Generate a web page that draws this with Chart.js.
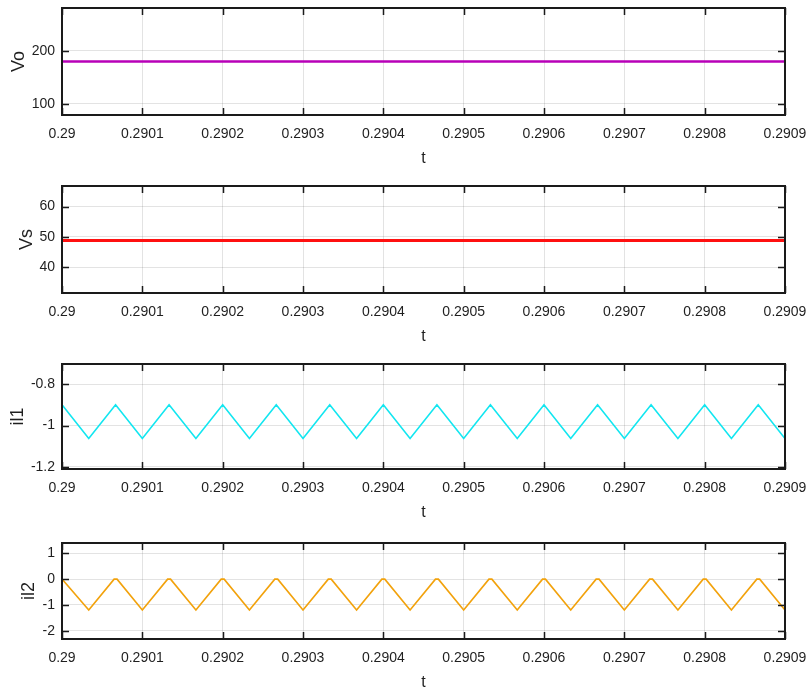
<!DOCTYPE html>
<html>
<head>
<meta charset="utf-8">
<script src="https://cdn.jsdelivr.net/npm/chart.js@4.4.0/dist/chart.umd.min.js"></script>
<style>
  html, body { margin: 0; padding: 0; background: #fff; overflow: hidden; }
  #wrap { position: relative; width: 806px; height: 689px; overflow: hidden; }
  canvas { position: absolute; left: 0; }
</style>
</head>
<body>
<div id="wrap">
  <canvas id="vo" width="806" height="172" style="top:0px"></canvas>
  <canvas id="vs" width="806" height="172" style="top:178px"></canvas>
  <canvas id="il1" width="806" height="170" style="top:356px"></canvas>
  <canvas id="il2" width="806" height="161" style="top:535px"></canvas>
</div>
<script>
// time axis
const timeTicks = [0.29, 0.2901, 0.2902, 0.2903, 0.2904, 0.2905, 0.2906, 0.2907, 0.2908, 0.2909];

// Vo, Vs: flat traces
const voTime = [0.29, 0.2909];
const voValues = [180, 180];
const vsTime = [0.29, 0.2909];
const vsValues = [48.8, 48.8];

// il1: triangle ripple, peaks / troughs
const il1Time = [0.29, 0.2900333, 0.2900667, 0.2901, 0.2901333, 0.2901667, 0.2902, 0.2902333,
  0.2902667, 0.2903, 0.2903333, 0.2903667, 0.2904, 0.2904333, 0.2904667, 0.2905, 0.2905333,
  0.2905667, 0.2906, 0.2906333, 0.2906667, 0.2907, 0.2907333, 0.2907667, 0.2908, 0.2908333,
  0.2908667, 0.2909];
const il1Values = [-0.9, -1.063, -0.9, -1.063, -0.9, -1.063, -0.9, -1.063,
  -0.9, -1.063, -0.9, -1.063, -0.9, -1.063, -0.9, -1.063, -0.9,
  -1.063, -0.9, -1.063, -0.9, -1.063, -0.9, -1.063, -0.9, -1.063,
  -0.9, -1.063];

// il2: ripple clipped at zero (short flat tops)
const il2Time = [0.29, 0.2900333, 0.2900649, 0.2900685, 0.2901, 0.2901315, 0.2901351, 0.2901667,
  0.2901982, 0.2902018, 0.2902333, 0.2902649, 0.2902685, 0.2903, 0.2903315, 0.2903351, 0.2903667,
  0.2903982, 0.2904018, 0.2904333, 0.2904649, 0.2904685, 0.2905, 0.2905315, 0.2905351, 0.2905667,
  0.2905982, 0.2906018, 0.2906333, 0.2906649, 0.2906685, 0.2907, 0.2907315, 0.2907351, 0.2907667,
  0.2907982, 0.2908018, 0.2908333, 0.2908649, 0.2908685, 0.2909];
const il2Values = [0, -1.2, 0, 0, -1.2, 0, 0, -1.2,
  0, 0, -1.2, 0, 0, -1.2, 0, 0, -1.2,
  0, 0, -1.2, 0, 0, -1.2, 0, 0, -1.2,
  0, 0, -1.2, 0, 0, -1.2, 0, 0, -1.2,
  0, 0, -1.2, 0, 0, -1.2];

const voTicks = [100, 200];
const vsTicks = [40, 50, 60];
const il1Ticks = [-1.2, -1, -0.8];
const il2Ticks = [-2, -1, 0, 1];

const FONT = "'Liberation Sans', Arial, sans-serif";

// black box + inward tick marks, like the matlab axes
const framePlugin = {
  id: 'frame',
  afterDraw(chart) {
    const { ctx, chartArea: a, scales: { x, y } } = chart;
    ctx.save();
    ctx.strokeStyle = '#1a1a1a';
    ctx.lineWidth = 1.5;
    ctx.beginPath();
    x.ticks.forEach(t => {
      const px = Math.round(x.getPixelForValue(t.value)) + 0.5;
      ctx.moveTo(px, a.top); ctx.lineTo(px, a.top + 7);
      ctx.moveTo(px, a.bottom); ctx.lineTo(px, a.bottom - 7);
    });
    y.ticks.forEach(t => {
      const py = Math.round(y.getPixelForValue(t.value)) + 0.5;
      ctx.moveTo(a.left, py); ctx.lineTo(a.left + 7, py);
      ctx.moveTo(a.right, py); ctx.lineTo(a.right - 7, py);
    });
    ctx.stroke();
    ctx.lineWidth = 2;
    ctx.strokeRect(a.left, a.top, a.right - a.left, a.bottom - a.top);
    ctx.restore();
  }
};

// axis sizes are fixed so the plot boxes line up with the original
function noEdgePadding(s) {
  s.paddingTop = 0;
  s.paddingBottom = 0;
  s.paddingLeft = 0;
  s.paddingRight = 0;
}

function makePanel(id, label, times, values, color, width, yMin, yMax, yTicks, titlePad) {
  const ctx = document.getElementById(id).getContext('2d');
  return new Chart(ctx, {
    type: 'line',
    data: {
      datasets: [{
        label: label,
        data: times.map((t, i) => ({ x: t, y: values[i] })),
        borderColor: color,
        borderWidth: width,
        pointRadius: 0,
        tension: 0,
        fill: false,
      }]
    },
    options: {
      responsive: false,
      animation: false,
      layout: { padding: { top: 8, right: 21, left: 0, bottom: 0 } },
      plugins: { legend: { display: false }, tooltip: { enabled: false } },
      scales: {
        x: {
          type: 'linear',
          min: 0.29,
          max: 0.2909,
          afterBuildTicks: s => { s.ticks = timeTicks.map(v => ({ value: v })); },
          afterFit: s => { s.height = 57; noEdgePadding(s); },
          grid: { color: 'rgba(0,0,0,0.11)', lineWidth: 1, drawTicks: false },
          border: { display: false },
          ticks: {
            autoSkip: false,
            maxRotation: 0,
            padding: 11,
            color: '#1f1f1f',
            font: { family: FONT, size: 14 },
            callback: v => String(v),
          },
          title: {
            display: true,
            text: 't',
            color: '#1f1f1f',
            font: { family: FONT, size: 16 },
            padding: { top: 0, bottom: 4 },
          }
        },
        y: {
          min: yMin,
          max: yMax,
          afterBuildTicks: s => { s.ticks = yTicks.map(v => ({ value: v })); },
          afterFit: s => { s.width = 62; noEdgePadding(s); },
          grid: { color: 'rgba(0,0,0,0.11)', lineWidth: 1, drawTicks: false },
          border: { display: false },
          ticks: {
            padding: 7,
            color: '#1f1f1f',
            font: { family: FONT, size: 14 },
            callback: v => String(v),
          },
          title: {
            display: true,
            text: label,
            color: '#1f1f1f',
            font: { family: FONT, size: 18 },
            padding: { top: titlePad, bottom: 0 },
          }
        }
      }
    },
    plugins: [framePlugin]
  });
}

makePanel('vo', 'Vo', voTime, voValues, '#b800b8', 2.5, 79, 281, voTicks, 8);
makePanel('vs', 'Vs', vsTime, vsValues, '#ff1010', 3, 31.5, 66.8, vsTicks, 16);
makePanel('il1', 'il1', il1Time, il1Values, '#12e6f0', 1.6, -1.21, -0.703, il1Ticks, 7);
makePanel('il2', 'il2', il2Time, il2Values, '#f2a20c', 1.6, -2.32, 1.4, il2Ticks, 18);
</script>
</body>
</html>
